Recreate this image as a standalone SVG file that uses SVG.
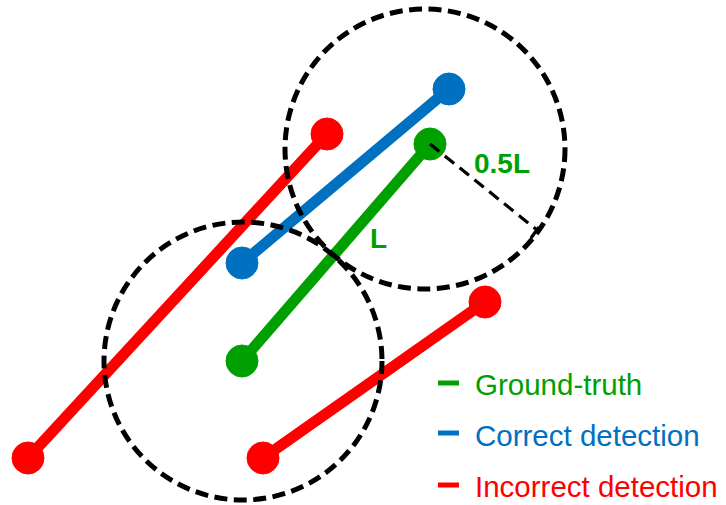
<svg xmlns="http://www.w3.org/2000/svg" width="726" height="505" viewBox="0 0 726 505">
<style>
.seg{stroke-width:11;stroke-linecap:round;fill:none}
.g{stroke:#00A000;fill:#00A000}
.b{stroke:#0070C0;fill:#0070C0}
.r{stroke:#FF0000;fill:#FF0000}
.circ{fill:none;stroke:#000;stroke-width:5;stroke-dasharray:13 6.5}
.rad{fill:none;stroke:#000;stroke-width:3.2;stroke-dasharray:12 7}
.lbl{font-family:"Liberation Sans",Arial,sans-serif;font-weight:bold;font-size:28px;fill:#00A000}
.leg{font-family:"Liberation Sans",Arial,sans-serif;font-size:29.5px}
.legline{stroke-width:5}
</style>
<rect width="726" height="505" fill="#fff"/>
<g id="segments">
  <g id="red1"><line class="seg r" x1="28" y1="458" x2="327" y2="134"/><circle class="r" cx="28" cy="458" r="16"/><circle class="r" cx="327" cy="134" r="16"/></g>
  <g id="blue"><line class="seg b" x1="242" y1="263" x2="449" y2="89"/><circle class="b" cx="242" cy="263" r="16"/><circle class="b" cx="449" cy="89" r="16"/></g>
  <g id="green"><line class="seg g" x1="242" y1="361" x2="430" y2="144"/><circle class="g" cx="242" cy="361" r="16"/><circle class="g" cx="430" cy="144" r="16"/></g>
  <g id="red2"><line class="seg r" x1="263" y1="458" x2="485" y2="302"/><circle class="r" cx="263" cy="458" r="16"/><circle class="r" cx="485" cy="302" r="16"/></g>
</g>
<g id="circles">
  <circle class="circ" cx="425" cy="149" r="140"/>
  <circle class="circ" cx="243" cy="361" r="139"/>
  <line class="rad" x1="430" y1="144" x2="537" y2="230"/>
  <line x1="531" y1="238" x2="539" y2="227" stroke="#000" stroke-width="3.2"/>
</g>
<g id="labels">
  <text class="lbl" x="474" y="173">0.5L</text>
  <text class="lbl" x="370" y="248">L</text>
</g>
<g id="legend">
  <line class="legline g" x1="438" y1="383" x2="459" y2="383"/>
  <text class="leg" x="475" y="395" fill="#00A000">Ground-truth</text>
  <line class="legline b" x1="438" y1="433" x2="459" y2="433"/>
  <text class="leg" x="475" y="446" fill="#0070C0">Correct detection</text>
  <line class="legline r" x1="438" y1="485" x2="459" y2="485"/>
  <text class="leg" x="475" y="497" fill="#FF0000">Incorrect detection</text>
</g>
</svg>
